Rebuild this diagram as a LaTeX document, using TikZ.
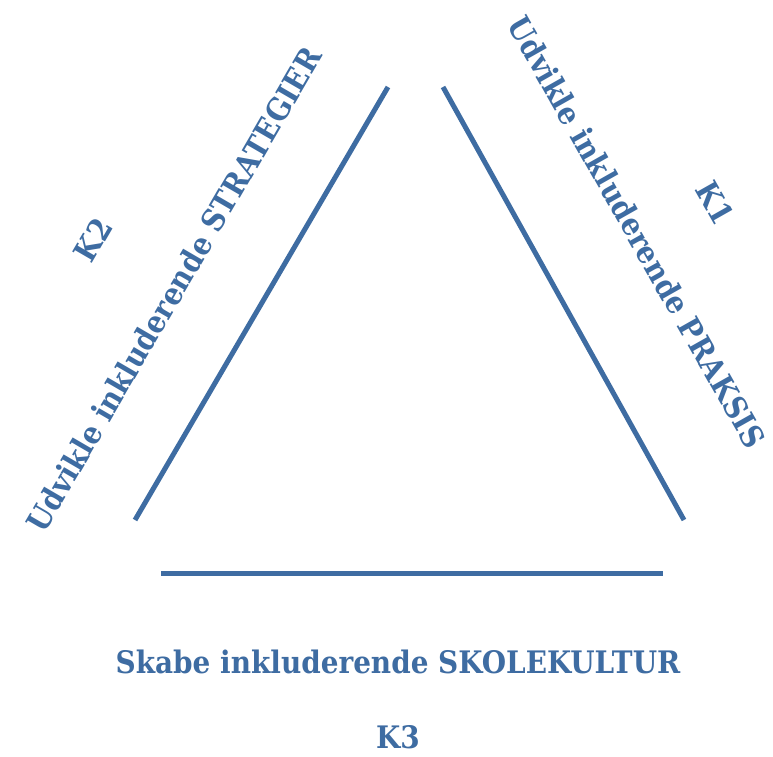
\documentclass[tikz,border=0pt]{standalone}
\usepackage{fontspec}
\setmainfont[FakeStretch=0.9]{DejaVu Serif}
\usepackage{tikz}
\usetikzlibrary{positioning}
\definecolor{myblue}{RGB}{62, 108, 162}

\begin{document}
\begin{tikzpicture}[x=1pt, y=-1pt,
    % --- stili ---
    side/.style={draw=myblue, line width=5pt},
    label/.style={text=myblue, font=\fontsize{31}{34}\selectfont\bfseries, inner sep=0}
]

% 1. riquadro
\useasboundingbox (0,0) rectangle (773,756);

% 2. vertici dei lati
\coordinate (l_low) at (135,520);
\coordinate (l_top) at (388,87);
\coordinate (r_top) at (443,87);
\coordinate (r_low) at (684,520);
\coordinate (b_left) at (161,573);
\coordinate (b_right) at (663,573);

% 3. i tre lati
\draw[side] (l_low) -- (l_top);
\draw[side] (r_top) -- (r_low);
\draw[side] (b_left) -- (b_right);

% 4. testi
\node (strategier) [label, rotate=59.8] at (174,289) {Udvikle inkluderende STRATEGIER};
\node (praksis) [label, rotate=-60.5] at (637,232) {Udvikle inkluderende PRAKSIS};
\node (skolekultur) [label] at (398,662) {Skabe inkluderende SKOLEKULTUR};
\node (k2) [label, rotate=59.8] at (93,240) {K2};
\node (k1) [label, rotate=-60.5] at (715,203) {K1};
\node (k3) [label] at (398,737) {K3};
\end{tikzpicture}
\end{document}
